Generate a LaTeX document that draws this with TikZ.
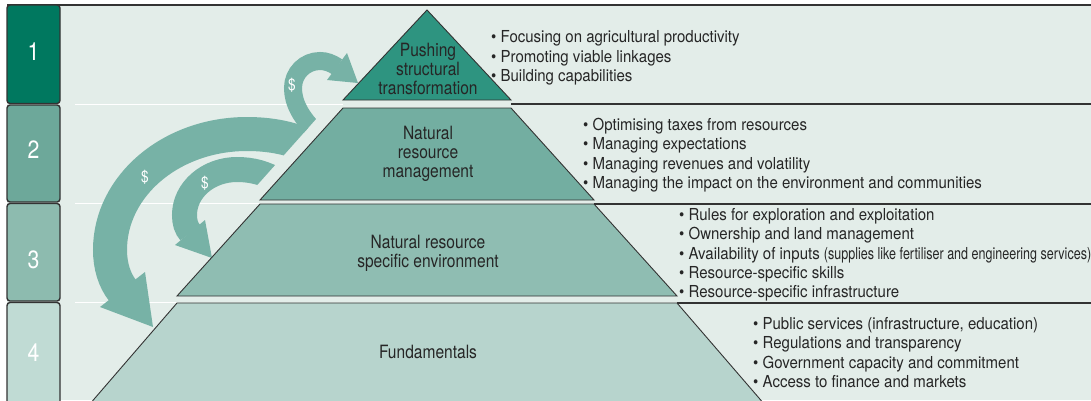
\documentclass[tikz,border=0pt]{standalone}
\usepackage{fontspec}
\setmainfont{TeX Gyre Heros}[FakeStretch=0.91]
\newfontfamily\labelfont{TeX Gyre Heros}[FakeStretch=0.85]
\newfontfamily\narrowfont{TeX Gyre Heros}[FakeStretch=0.76]
\definecolor{bg}{HTML}{E3EDE9}
\definecolor{tabA}{HTML}{00785F}
\definecolor{tabB}{HTML}{6DA89A}
\definecolor{tabC}{HTML}{8DBBAF}
\definecolor{tabD}{HTML}{C0DBD4}
\definecolor{layA}{HTML}{2E9480}
\definecolor{layB}{HTML}{73AEA1}
\definecolor{layC}{HTML}{8FBDB2}
\definecolor{layD}{HTML}{B7D4CD}
\definecolor{arrowc}{HTML}{77B2A6}
\definecolor{txt}{HTML}{262626}
\definecolor{edge}{HTML}{333333}
\begin{document}
\begin{tikzpicture}[x=1pt,y=-1pt,
  bullets/.style={anchor=west, align=left, inner sep=0pt, text=txt, font=\fontsize{16.5}{19.3}\selectfont},
  layerlabel/.style={align=center, inner sep=0pt, text=txt, font=\labelfont\fontsize{18.3}{19.2}\selectfont},
  tabnum/.style={inner sep=0pt, text=white, font=\labelfont\fontsize{25}{25}\selectfont},
  dollar/.style={inner sep=0pt, text=white, font=\labelfont\fontsize{16}{16}\selectfont},
  layer/.style={draw=edge, line width=0.9pt, line join=miter},
  tabbox/.style={draw=edge, line width=1.4pt, rounded corners=3pt},
  flow/.style={draw=arrowc, line cap=butt},
  headfill/.style={fill=arrowc},
  whiteline/.style={draw=white, line width=1.6pt},
  darkline/.style={draw=edge, line width=1.1pt}]
\useasboundingbox (0,0) rectangle (1091,400);
\fill[white] (0,0) rectangle (1091,400);
\fill[bg] (7,5) rectangle (1091,400);

% layer corners
\coordinate (L1t) at (427,10);
\coordinate (L1r) at (511,100);
\coordinate (L1l) at (343,100);
\coordinate (L2tl) at (343,108);
\coordinate (L2tr) at (511,108);
\coordinate (L2br) at (594,200);
\coordinate (L2bl) at (260,200);
\coordinate (L3tl) at (260,204);
\coordinate (L3tr) at (594,204);
\coordinate (L3br) at (677,296);
\coordinate (L3bl) at (177,296);
\coordinate (L4tl) at (177,303);
\coordinate (L4tr) at (677,303);
\coordinate (L4br) at (765,405);
\coordinate (L4bl) at (89,405);

% row dividers
\coordinate (w1) at (75,104.5);
\coordinate (w2) at (75,203.5);
\coordinate (w3) at (75,302.5);
\draw[whiteline] (w1) -- (L1l |- w1);
\draw[whiteline] (w2) -- (L3tl |- w2);
\draw[whiteline] (w3) -- (L4tl |- w3);
\coordinate (d1) at (1091,104);
\draw[darkline] (L1r |- d1) -- (d1);
\draw[darkline] (L3tr) -- (L3tr -| d1);
\draw[darkline] (L4tr) -- (L4tr -| d1);
\draw[edge, line width=1.6pt] (7,5) -- (1091,5);

% arrows
\begin{scope}
\clip (0,0) -- (1091,0) -- (1091,100) -- (333,100) -- (243,201) -- (1091,201) -- (1091,400) -- (0,400) -- cycle;
% small arrow
\coordinate (aS) at (318,134);
\coordinate (aE) at (337.5,67);
\draw[flow, line width=18pt] (aS) .. controls (300,117) and (293,102) .. (293,88)
  .. controls (293,73) and (305,61) .. (320,61)
  .. controls (326,61) and (331.5,63) .. (aE);
\fill[headfill] (327,80) -- (347,53) -- (358,83) -- cycle;
% big arrow
\coordinate (bS) at (318,152);
\coordinate (bE) at (123,291);
\draw[flow, line width=34pt] (bS) .. controls (300,140) and (275,134) .. (247,134)
  .. controls (171,134) and (110,186) .. (110,250)
  .. controls (110,265) and (114,280) .. (bE);
\fill[headfill] (100,307) -- (145,272) -- (153,327) -- cycle;
% medium arrow
\coordinate (cS) at (280,182);
\coordinate (cE) at (190.5,233);
\draw[flow, line width=25pt] (cS) .. controls (266,173) and (252,169.5) .. (237,169.5)
  .. controls (208,169.5) and (184.5,190) .. (184.5,215)
  .. controls (184.5,222) and (186,228) .. (cE);
\fill[headfill] (175,245) -- (205,220) -- (212,258) -- cycle;
\end{scope}
\node[dollar] (dA) at (292,85) {\$};
\node[dollar] (dB) at (145,177) {\$};
\node[dollar] (dC) at (205,183) {\$};

% pyramid
\draw[layer, fill=layA] (L1t) -- (L1r) -- (L1l) -- cycle;
\draw[layer, fill=layB] (L2tl) -- (L2tr) -- (L2br) -- (L2bl) -- cycle;
\draw[layer, fill=layC] (L3tl) -- (L3tr) -- (L3br) -- (L3bl) -- cycle;
\draw[layer, fill=layD] (L4tl) -- (L4tr) -- (L4br) -- (L4bl) -- cycle;

\node[layerlabel] (p1) at (428,69) {Pushing\\structural\\transformation};
\node[layerlabel] (p2) at (428,154) {Natural\\resource\\management};
\node[layerlabel] (p3) at (428,253.5) {Natural resource\\specific environment};
\node[layerlabel] (p4) at (428,352) {Fundamentals};

% bullet lists
\node[bullets] (b1) at (491,58) {\textbullet{} Focusing on agricultural productivity\\
\textbullet{} Promoting viable linkages\\
\textbullet{} Building capabilities};
\node[bullets] (b2) at (583,155) {\textbullet{} Optimising taxes from resources\\
\textbullet{} Managing expectations\\
\textbullet{} Managing revenues and volatility\\
\textbullet{} Managing the impact on the environment and communities};
\node[bullets] (b3) at (679,255) {\textbullet{} Rules for exploration and exploitation\\
\textbullet{} Ownership and land management\\
\textbullet{} Availability of inputs {\narrowfont (supplies like fertiliser and engineering services)}\\
\textbullet{} Resource-specific skills\\
\textbullet{} Resource-specific infrastructure};
\node[bullets] (b4) at (753,352.5) {\textbullet{} Public services (infrastructure, education)\\
\textbullet{} Regulations and transparency\\
\textbullet{} Government capacity and commitment\\
\textbullet{} Access to finance and markets};

% tabs
\draw[tabbox, fill=tabA] (7,5) rectangle (60,103.5);
\draw[tabbox, fill=tabB] (7,105) rectangle (60,202);
\draw[tabbox, fill=tabC] (7,203.5) rectangle (60,301);
\draw[tabbox, fill=tabD] (7,302.5) rectangle (60,420);
\node[tabnum] (t1) at (33.5,52) {1};
\node[tabnum] (t2) at (33.5,150) {2};
\node[tabnum] (t3) at (33.5,260) {3};
\node[tabnum] (t4) at (33.5,353) {4};
\end{tikzpicture}
\end{document}
